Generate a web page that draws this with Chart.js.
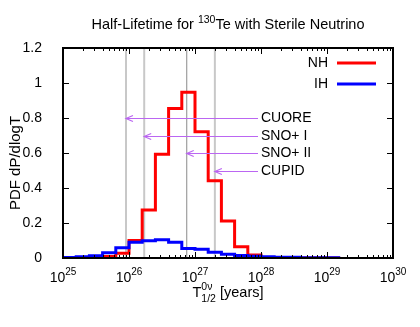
<!DOCTYPE html>
<html>
<head>
<meta charset="utf-8">
<script src="https://cdn.jsdelivr.net/npm/chart.js@4/dist/chart.umd.min.js"></script>
<style>
  body { margin: 0; background: #fff; }
  #wrap { width: 420px; height: 327px; }
</style>
</head>
<body>
<div id="wrap"><canvas id="grafico"></canvas></div>
<script>
// log10 of the lower edge of each histogram bin (bins are 0.2 decades wide)
const binStarts = [25.0, 25.2, 25.4, 25.6, 25.8, 26.0, 26.2, 26.4, 26.6, 26.8,
                   27.0, 27.2, 27.4, 27.6, 27.8, 28.0, 28.2, 28.4, 28.6, 28.8, 29.0];
const binWidth = 0.2;
const nhValues = [0, 0, 0, 0.008, 0.027, 0.10, 0.274, 0.593, 0.855, 0.947,
                  0.722, 0.442, 0.211, 0.065, 0.017, 0.003, 0.001, 0, 0, 0, 0];
const ihValues = [0.003, 0.007, 0.013, 0.03, 0.059, 0.09, 0.099, 0.105, 0.09, 0.055,
                  0.05, 0.033, 0.021, 0.015, 0.01, 0.007, 0.005, 0.004, 0.002, 0.001, 0.001];

// experiment sensitivities (years) and where their arrows sit
const detectors = ['CUORE', 'SNO+ I', 'SNO+ II', 'CUPID'];
const sensitivities = [9e25, 1.7e26, 7.5e26, 2e27];
const arrowLevels = [0.8, 0.7, 0.6, 0.5];
const labelAnchor = 1e28;

const yTicks = [0, 0.2, 0.4, 0.6, 0.8, 1, 1.2];
const xDecades = [25, 26, 27, 28, 29, 30];

const FONT = '"Liberation Sans", Arial, sans-serif';
const arrowColor = '#bb66f2';

function histo(vals) {
    const pts = binStarts.map((b, i) => ({ x: Math.pow(10, b), y: vals[i] }));
    const last = binStarts.length - 1;
    pts.push({ x: Math.pow(10, binStarts[last] + binWidth), y: vals[last] });
    return pts;
}

function vline(v) {
    return [{ x: v, y: 0 }, { x: v, y: 1.2 }];
}

const decor = {
    id: 'decor',
    afterDatasetsDraw(chart) {
        const { ctx, chartArea: a, scales: { x, y } } = chart;
        ctx.save();

        // arrows + labels
        detectors.forEach((name, i) => {
            const xs = x.getPixelForValue(sensitivities[i]);
            const xa = x.getPixelForValue(labelAnchor);
            const ya = Math.round(y.getPixelForValue(arrowLevels[i])) + 0.5;
            ctx.strokeStyle = arrowColor;
            ctx.lineWidth = 1.2;
            ctx.beginPath();
            ctx.moveTo(xa - 3, ya);
            ctx.lineTo(xs, ya);
            ctx.stroke();
            ctx.beginPath();
            ctx.moveTo(xs + 7, ya - 3);
            ctx.lineTo(xs, ya);
            ctx.lineTo(xs + 7, ya + 3);
            ctx.stroke();
            ctx.fillStyle = '#000';
            ctx.font = '14px ' + FONT;
            ctx.textAlign = 'left';
            ctx.textBaseline = 'middle';
            ctx.fillText(name, xa, ya);
        });

        // frame
        ctx.strokeStyle = '#000';
        ctx.lineWidth = 2;
        ctx.strokeRect(a.left, a.top, a.right - a.left, a.bottom - a.top);

        // ticks (inward, mirrored)
        ctx.lineWidth = 1;
        ctx.beginPath();
        xDecades.forEach(e => {
            for (let m = 1; m <= 9; m++) {
                if (e === 30 && m > 1) break;
                const px = Math.round(x.getPixelForValue(m * Math.pow(10, e))) + 0.5;
                const len = m === 1 ? 6 : 3;
                ctx.moveTo(px, a.bottom); ctx.lineTo(px, a.bottom - len);
                ctx.moveTo(px, a.top); ctx.lineTo(px, a.top + len);
            }
        });
        yTicks.forEach(t => {
            const py = Math.round(y.getPixelForValue(t)) + 0.5;
            ctx.moveTo(a.left, py); ctx.lineTo(a.left + 6, py);
            ctx.moveTo(a.right, py); ctx.lineTo(a.right - 6, py);
        });
        ctx.stroke();

        // x tick labels 10^n
        ctx.fillStyle = '#000';
        ctx.textBaseline = 'alphabetic';
        ctx.textAlign = 'left';
        xDecades.forEach(e => {
            const px = x.getPixelForValue(Math.pow(10, e));
            ctx.font = '14px ' + FONT;
            const w1 = ctx.measureText('10').width;
            ctx.font = '10px ' + FONT;
            const w2 = ctx.measureText(String(e)).width;
            const x0 = px - (w1 + w2) / 2;
            ctx.font = '14px ' + FONT;
            ctx.fillText('10', x0, a.bottom + 24);
            ctx.font = '10px ' + FONT;
            ctx.fillText(String(e), x0 + w1, a.bottom + 17);
        });

        // x title: T^{0ν}_{1/2} [years]
        ctx.font = '14.5px ' + FONT;
        const wT = ctx.measureText('T').width;
        const wY = ctx.measureText(' [years]').width;
        ctx.font = '10.5px ' + FONT;
        const wS = Math.max(ctx.measureText('0ν').width, ctx.measureText('1/2').width);
        let tx = (a.left + a.right) / 2 - (wT + wS + wY) / 2;
        const tb = a.bottom + 39;
        ctx.font = '14.5px ' + FONT;
        ctx.fillText('T', tx, tb);
        ctx.font = '10.5px ' + FONT;
        ctx.fillText('0ν', tx + wT, tb - 7);
        ctx.fillText('1/2', tx + wT, tb + 5);
        ctx.font = '14.5px ' + FONT;
        ctx.fillText(' [years]', tx + wT + wS, tb);

        // y title
        ctx.save();
        ctx.translate(16, 163);
        ctx.rotate(-Math.PI / 2);
        ctx.textAlign = 'center';
        ctx.textBaseline = 'middle';
        ctx.font = '15px ' + FONT;
        ctx.fillText('PDF dP/dlogT', 0, 0);
        ctx.restore();

        // title: Half-Lifetime for ^130Te with Sterile Neutrino
        const t1 = 'Half-Lifetime for ', t2 = '130', t3 = 'Te with Sterile Neutrino';
        ctx.font = '14.5px ' + FONT;
        const w1 = ctx.measureText(t1).width, w3 = ctx.measureText(t3).width;
        ctx.font = '10.5px ' + FONT;
        const w2 = ctx.measureText(t2).width;
        let hx = 228 - (w1 + w2 + w3) / 2;
        ctx.font = '14.5px ' + FONT;
        ctx.fillText(t1, hx, 29);
        ctx.font = '10.5px ' + FONT;
        ctx.fillText(t2, hx + w1, 23);
        ctx.font = '14.5px ' + FONT;
        ctx.fillText(t3, hx + w1 + w2, 29);

        // legend (gnuplot style: text right, sample line after it)
        const legendRows = [chart.data.datasets[1], chart.data.datasets[0]];
        ctx.font = '14px ' + FONT;
        ctx.textAlign = 'right';
        ctx.textBaseline = 'middle';
        legendRows.forEach((ds, i) => {
            const ly = 63 + i * 21;
            ctx.fillStyle = '#000';
            ctx.fillText(ds.label, 328, ly);
            ctx.strokeStyle = ds.borderColor;
            ctx.lineWidth = 3;
            ctx.beginPath();
            ctx.moveTo(337, ly);
            ctx.lineTo(376, ly);
            ctx.stroke();
        });

        ctx.restore();
    }
};

const lineDefaults = { pointRadius: 0, fill: false, tension: 0 };

new Chart(document.getElementById('grafico'), {
    type: 'line',
    data: {
        datasets: [
            { label: 'IH', data: histo(ihValues), borderColor: '#0000ff', borderWidth: 3,
              stepped: 'before', order: 0, ...lineDefaults },
            { label: 'NH', data: histo(nhValues), borderColor: '#ff0000', borderWidth: 3,
              stepped: 'before', order: 1, ...lineDefaults },
            ...detectors.map((d, i) => ({
                label: d, data: vline(sensitivities[i]),
                borderColor: d === 'SNO+ II' ? '#8a8a8a' : '#c8c8c8',
                borderWidth: d === 'SNO+ II' ? 1 : 2,
                order: 2, ...lineDefaults
            }))
        ]
    },
    options: {
        responsive: true,
        maintainAspectRatio: false,
        animation: false,
        layout: { padding: { top: 48, right: 27, left: 0, bottom: 0 } },
        plugins: { legend: { display: false }, tooltip: { enabled: false } },
        scales: {
            x: {
                type: 'logarithmic',
                min: 1e25,
                max: 1e30,
                grid: { display: false },
                border: { display: false },
                ticks: { display: false },
                afterFit(s) { s.height = 69; }
            },
            y: {
                min: 0,
                max: 1.2,
                grid: { display: false },
                border: { display: false },
                ticks: {
                    stepSize: 0.2,
                    color: '#000',
                    padding: 13,
                    font: { family: FONT, size: 14 },
                    callback: v => String(+v.toFixed(1))
                },
                afterFit(s) { s.width = 63; }
            }
        }
    },
    plugins: [decor]
});
</script>
</body>
</html>
